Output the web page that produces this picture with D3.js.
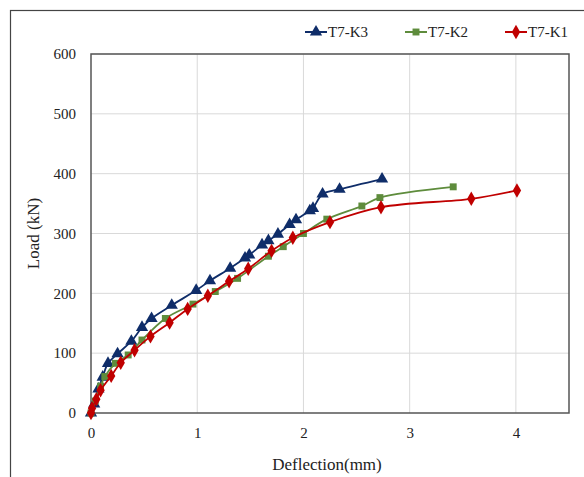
<!DOCTYPE html>
<html>
<head>
<meta charset="utf-8">
<script src="https://cdn.jsdelivr.net/npm/d3@7"></script>
<style>
  body { margin: 0; background: #fff; }
  svg text { font-family: "Times New Roman", "Liberation Serif", "DejaVu Serif", serif !important; fill: #222; }
</style>
</head>
<body>
<div id="chart"></div>
<script>
// series values: [deflection mm, load kN]
const k3 = [[0,0],[0.03,15],[0.07,40],[0.11,60],[0.16,83],[0.25,99],[0.38,120],[0.48,143],[0.57,158],
  [0.76,180],[0.99,205],[1.12,221],[1.31,242],[1.45,259],[1.49,264],[1.61,281],[1.67,288],[1.76,299],
  [1.87,315],[1.93,323],[2.06,338],[2.09,342],[2.18,366],[2.34,374],[2.74,391]];
const k2 = [[0,0],[0.04,20],[0.09,45],[0.13,61],[0.23,83],[0.35,97],[0.48,122],[0.70,158],[0.96,182],
  [1.17,203],[1.38,225],[1.67,262],[1.81,278],[2.00,300],[2.22,324],[2.55,346],[2.72,360],[3.41,378]];
const k1 = [[0,0],[0.01,8],[0.05,23],[0.09,38],[0.19,62],[0.28,84],[0.41,105],[0.56,128],[0.74,151],
  [0.91,174],[1.10,196],[1.30,220],[1.48,241],[1.70,271],[1.90,293],[2.25,319],[2.73,344],[3.58,358],[4.01,372]];

const seriesNames = ["T7-K3", "T7-K2", "T7-K1"];
const xTicks = [0, 1, 2, 3, 4];
const yTicks = [0, 100, 200, 300, 400, 500, 600];

const width = 584, height = 477;
const margin = {top: 54, right: 15, bottom: 64, left: 91};

const svg = d3.select("#chart").append("svg")
  .attr("width", width)
  .attr("height", height);

// outer frame
svg.append("rect")
  .attr("x", 10.5).attr("y", 10.5)
  .attr("width", width).attr("height", height)
  .attr("fill", "none")
  .attr("stroke", "#444")
  .attr("stroke-width", 1.2);

let x = d3.scaleLinear().domain([0, 4.5]).range([margin.left, width - margin.right]);
let y = d3.scaleLinear().domain([0, 600]).range([height - margin.bottom, margin.top]);

// grid
svg.append("g")
  .selectAll("line")
  .data(xTicks.slice(1))
  .enter()
  .append("line")
  .attr("x1", d => x(d)).attr("x2", d => x(d))
  .attr("y1", y(0)).attr("y2", y(600))
  .attr("stroke", "#d9d9d9");

svg.append("g")
  .selectAll("line")
  .data(yTicks.slice(1))
  .enter()
  .append("line")
  .attr("x1", x(0)).attr("x2", x(4.5))
  .attr("y1", d => y(d)).attr("y2", d => y(d))
  .attr("stroke", "#d9d9d9");

// axes (labels only, frame drawn separately)
const xAxis = svg.append("g")
  .attr("transform", `translate(0,${y(0)})`)
  .call(d3.axisBottom(x).tickValues(xTicks).tickSize(0).tickPadding(14).tickFormat(d3.format("d")));
xAxis.attr("font-family", null);
xAxis.select(".domain").remove();
xAxis.selectAll("text").style("font-size", "15px");

const yAxis = svg.append("g")
  .attr("transform", `translate(${x(0)},0)`)
  .call(d3.axisLeft(y).tickValues(yTicks).tickSize(0).tickPadding(15));
yAxis.attr("font-family", null);
yAxis.select(".domain").remove();
yAxis.selectAll("text").style("font-size", "15px");

// plot frame
svg.append("rect")
  .attr("x", x(0)).attr("y", y(600))
  .attr("width", x(4.5) - x(0)).attr("height", y(0) - y(600))
  .attr("fill", "none")
  .attr("stroke", "#555")
  .attr("stroke-width", 1.5);

// axis titles
svg.append("text")
  .attr("x", (x(0) + x(4.5)) / 2 - 3)
  .attr("y", 470)
  .attr("text-anchor", "middle")
  .style("font-size", "17px")
  .text("Deflection(mm)");

svg.append("text")
  .attr("transform", `translate(39,${(y(0) + y(600)) / 2}) rotate(-90)`)
  .attr("text-anchor", "middle")
  .style("font-size", "17px")
  .text("Load (kN)");

// series
const series = [
  {name: seriesNames[0], data: k3, color: "#0f2d69", symbol: d3.symbolTriangle, size: 65},
  {name: seriesNames[1], data: k2, color: "#5e8c3c", symbol: d3.symbolSquare, size: 48},
  {name: seriesNames[2], data: k1, color: "#c00000", symbol: d3.symbolDiamond, size: 60}
];

const line = d3.line()
  .x(d => x(d[0]))
  .y(d => y(d[1]))
  .curve(d3.curveCatmullRom.alpha(0.5));

series.forEach(s => {
  let g = svg.append("g");
  g.append("path")
    .datum(s.data)
    .attr("d", line)
    .attr("fill", "none")
    .attr("stroke", s.color)
    .attr("stroke-width", 1.8);
  g.selectAll("path.m")
    .data(s.data)
    .enter()
    .append("path")
    .attr("class", "m")
    .attr("transform", d => `translate(${x(d[0])},${y(d[1])})`)
    .attr("d", d3.symbol().type(s.symbol).size(s.size))
    .attr("fill", s.color);
});

// legend
const legendX = [305, 405, 505];
series.forEach((s, i) => {
  let g = svg.append("g").attr("transform", `translate(${legendX[i]},32)`);
  g.append("line")
    .attr("x1", 0).attr("x2", 22)
    .attr("stroke", s.color).attr("stroke-width", 2);
  g.append("path")
    .attr("transform", "translate(11,0)")
    .attr("d", d3.symbol().type(s.symbol).size(s.size))
    .attr("fill", s.color);
  g.append("text")
    .attr("x", 23)
    .attr("y", 5)
    .style("font-size", "15px")
    .text(s.name);
});
</script>
</body>
</html>
